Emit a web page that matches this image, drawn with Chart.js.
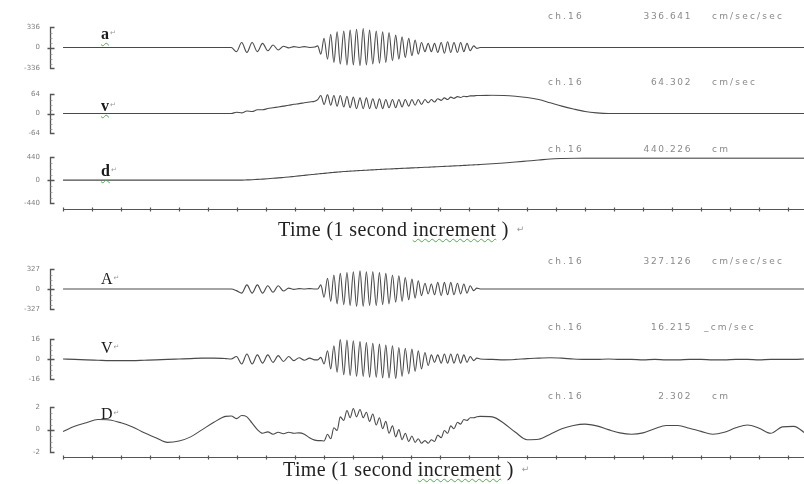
<!DOCTYPE html>
<html>
<head>
<meta charset="utf-8">
<script src="https://cdn.jsdelivr.net/npm/chart.js@4.4.1/dist/chart.umd.min.js"></script>
<style>
  body { margin: 0; background: #fff; }
  #page { position: relative; width: 804px; height: 484px; overflow: hidden; font-family: "Liberation Serif", serif; }
  canvas.panel { position: absolute; left: 0; }
  .lbl { position: absolute; left: 101px; font-size: 16px; line-height: 16px; color: #1a1a1a; }
  .lbl.lc { font-weight: bold; }
  .ret { font-family: "DejaVu Sans"; font-size: 7px; color: #999; font-weight: normal; vertical-align: 4px; margin-left: 1px; }
  .spell { text-decoration: underline wavy #4caf50; text-decoration-thickness: 1px; text-underline-offset: 3px; }
  .title .spell { text-underline-offset: 2px; }
  .info { position: absolute; font-family: "DejaVu Sans"; font-size: 9px; line-height: 9px; color: #8a8a8a; letter-spacing: 2.2px; white-space: nowrap; }
  .title { position: absolute; font-size: 20px; line-height: 20px; letter-spacing: 0.4px; color: #222; white-space: nowrap; }
</style>
</head>
<body>
<div id="page">
  <canvas class="panel" id="pa" width="804" height="69" style="top:13px"></canvas>
  <canvas class="panel" id="pv" width="804" height="67" style="top:80px"></canvas>
  <canvas class="panel" id="pd" width="804" height="82" style="top:143px"></canvas>
  <canvas class="panel" id="pA" width="804" height="68" style="top:255px"></canvas>
  <canvas class="panel" id="pV" width="804" height="68" style="top:325px"></canvas>
  <canvas class="panel" id="pD" width="804" height="79" style="top:393px"></canvas>

  <div class="lbl lc" style="top:25px"><span class="spell">a</span><span class="ret">↵</span></div>
  <div class="lbl lc" style="top:97px"><span class="spell">v</span><span class="ret">↵</span></div>
  <div class="lbl lc" style="top:162px"><span class="spell">d</span><span class="ret">↵</span></div>
  <div class="lbl" style="top:270px">A<span class="ret">↵</span></div>
  <div class="lbl" style="top:339px">V<span class="ret">↵</span></div>
  <div class="lbl" style="top:405px">D<span class="ret">↵</span></div>

  <div class="title" style="left:278px; top:219px">Time (1 second <span class="spell">increment</span> )<span class="ret" style="font-size:9px;margin-left:8px">↵</span></div>
  <div class="title" style="left:283px; top:459px">Time (1 second <span class="spell">increment</span> )<span class="ret" style="font-size:9px;margin-left:8px">↵</span></div>
</div>
<script>
// time base (s)
var times = [
  0, 0.4, 0.8, 1.2, 1.6, 2.0, 2.4, 2.8, 3.2, 3.6, 4.0, 4.4, 4.8, 5.2, 5.6,
  5.80, 5.98, 6.16, 6.34, 6.52, 6.70, 6.88, 7.06, 7.24, 7.42, 7.60, 7.78, 7.96, 8.14, 8.32, 8.50, 8.68,
  8.78, 8.89, 9.00, 9.12, 9.23, 9.34, 9.45, 9.56, 9.68, 9.79, 9.90, 10.01, 10.12, 10.24, 10.35, 10.46, 10.57,
  10.68, 10.80, 10.91, 11.02, 11.13, 11.24, 11.36, 11.47, 11.58, 11.69, 11.80, 11.92, 12.03, 12.14, 12.25,
  12.36, 12.48, 12.59, 12.70, 12.81, 12.92, 13.04, 13.15, 13.26, 13.37, 13.48, 13.60, 13.71, 13.82, 13.93,
  14.04, 14.16, 14.27, 14.38,
  14.8, 15.2, 15.6, 16.0, 16.4, 16.8, 17.2, 17.6, 18.0, 18.4, 18.8, 19.2, 19.6, 20.0, 20.4, 20.8, 21.2,
  21.6, 22.0, 22.4, 22.8, 23.2, 23.6, 24.0, 24.4, 24.8, 25.2, 25.6
];

// upper record: a (cm/sec/sec), v (cm/sec), d (cm)
var accUpper = [
  0, 0, 0, 0, 0, 0, 0, 0, 0, 0, 0, 0, 0, 0, 0,
  0, -68, 82, -82, 82, -68, 68, -55, 41, -41, 21, -7, 14, 0, 14, 0, 7,
  27, -110, 151, -192, 219, -247, 260, -274, 274, -288, 288, -288, 301, -301, 315, -288, 288,
  -274, 274, -260, 260, -247, 247, -219, 205, -192, 178, -164, 151, -137, 123, -110,
  82, -68, 68, -68, 68, -82, 82, -96, 96, -82, 82, -82, 82, -68, 68,
  -55, 27, -14, 0,
  0, 0, 0, 0, 0, 0, 0, 0, 0, 0, 0, 0, 0, 0, 0, 0, 0,
  0, 0, 0, 0, 0, 0, 0, 0, 0, 0, 0
];
var velUpper = [
  0, 0, 0, 0, 0, 0, 0, 0, 0, 0, 0, 0, 0, 0, 0,
  0, 4.1, 2.2, 8.2, 6.8, 12.2, 12.2, 16.3, 19, 21.8, 24.5, 27.2, 30.5, 32.6, 35.4, 38.1, 40.8,
  46.2, 59.8, 29.9, 62.6, 27.2, 59.8, 24.5, 59.8, 21.8, 57.1, 19, 54.4, 16.3, 51.7, 16.3, 51.7, 16.3,
  49, 16.3, 49, 16.3, 46.2, 19, 46.2, 19, 46.2, 21.8, 46.2, 24.5, 46.2, 27.2, 46.2,
  29.9, 46.2, 35.4, 46.2, 38.1, 49, 43.5, 51.7, 46.2, 54.4, 50.3, 55.8, 53, 57.1, 55.8,
  58.5, 58.5, 59.8, 59.8,
  60.7, 59.8, 57.1, 53, 46.2, 35.4, 24.5, 15, 6.8, 2.2, 0, 0, 0, 0, 0, 0, 0,
  0, 0, 0, 0, 0, 0, 0, 0, 0, 0, 0
];
var dispUpper = [
  0, 0, 0, 0, 0, 0, 0, 0, 0, 0, 0, 0, 0, 0, 0,
  0, 0, 0, 3.5, 7, 14, 19.4, 26.4, 35.2, 42.2, 51, 59.8, 70.4, 81, 91.5, 102, 113,
  118, 125, 130, 137, 143, 148, 153, 158, 164, 167, 172, 176, 180, 183, 187, 190, 194,
  197, 201, 204, 208, 211, 213, 216, 220, 222, 225, 229, 231, 234, 238, 239,
  243, 246, 248, 252, 255, 257, 260, 264, 266, 269, 273, 276, 278, 282, 285,
  289, 292, 296, 299,
  313, 329, 347, 366, 385, 405, 415, 421, 422, 422, 422, 422, 422, 422, 422, 422, 422,
  422, 422, 422, 422, 422, 422, 422, 422, 422, 422, 422
];

// lower record: A (cm/sec/sec), V (cm/sec), D (cm)
var accLower = [
  0, 0, 0, 0, 0, 0, 0, 0, 0, 0, 0, 0, 0, 0, 0,
  0, -27, -68, 68, -68, 68, -68, 54, -54, 54, -34, 14, -7, 7, 0, 7, 0,
  0, 68, -136, 177, -204, 231, -245, 258, -258, 272, -272, 286, -286, 299, -286, 286, -272,
  286, -272, 272, -258, 258, -245, 231, -218, 218, -204, 190, -177, 163, -150, 136,
  -109, 95, -82, 82, -95, 109, -109, 109, -95, 109, -95, 95, -82, 82, -68,
  54, -27, 14, 0,
  0, 0, 0, 0, 0, 0, 0, 0, 0, 0, 0, 0, 0, 0, 0, 0, 0,
  0, 0, 0, 0, 0, 0, 0, 0, 0, 0, 0
];
var velLower = [
  0, -0.33, -0.67, -1, -1.33, -1.33, -1.33, -1, -0.67, -0.33, 0, 0.33, 0.67, 0.67, 0.33,
  0, 2, -4, 4, -4, 3.3, -3.3, 3.3, -2.7, 2.7, -2, 2, -1.3, 1, -1, 0.7, -0.7,
  -0.67, 1.33, -4, 6.67, -8, 10.7, -10.7, 16, -12.7, 15.3, -13.3, 14.7, -14, 14, -14, 13.3, -14.7,
  12.7, -14.7, 12, -15.3, 11.3, -15.3, 10.7, -16, 9.3, -14, 8.7, -12, 8, -10, 6.7,
  -8, 5.3, -5.3, 3.3, -2.7, 3.3, -3.3, 4, -3.3, 4, -3.3, 4, -3.3, 3.3, -2.7,
  2, -1.3, 0.67, 0,
  -0.33, -0.67, -0.33, 0.33, 0.67, 1, 0.67, 0, -0.33, -0.33, 0, -0.33, -0.33, -0.67, -0.33, -0.67, -0.67,
  -0.33, -0.33, -0.67, -0.67, -0.33, -0.33, -0.67, -0.33, -0.33, -0.33, 0
];
var dispLower = [
  -0.16, 0.29, 0.61, 0.9, 0.86, 0.61, 0.24, -0.29, -0.73, -1.14, -1.02, -0.65, 0, 0.65, 1.18,
  1.22, 0.98, 1.26, 1.14, 0.57, 0, -0.33, -0.2, -0.41, -0.24, -0.37, -0.24, -0.33, -0.29, -0.41, -0.73, -0.94,
  -0.98, -0.98, -1.02, -0.41, -0.82, 0.16, -0.08, 1.14, 0.82, 1.71, 1.06, 1.88, 1.14, 1.8, 1.06, 1.55, 0.73,
  1.39, 0.41, 1.06, 0.08, 0.73, -0.33, 0.33, -0.65, 0, -0.9, -0.33, -1.06, -0.57, -1.14, -0.82,
  -1.22, -0.98, -1.22, -0.9, -1.06, -0.49, -0.73, -0.08, -0.33, 0.33, 0.08, 0.65, 0.49, 0.9, 0.82,
  1.06, 1.06, 1.14, 1.18,
  1.14, 0.57, -0.24, -0.9, -0.86, -0.41, 0.08, 0.37, 0.49, 0.33, 0, -0.29, -0.41, -0.29, 0.08, 0.37, 0.37,
  0.12, -0.16, -0.41, -0.24, 0.16, 0.41, 0.12, -0.33, 0.24, 0.29, -0.33
];

// axis ranges and tick labels
var ranges = [336, 64, 440, 327, 16, 2];
var tickLabels = [
  ['-336', '0', '336'],
  ['-64', '0', '64'],
  ['-440', '0', '440'],
  ['-327', '0', '327'],
  ['-16', '0', '16'],
  ['-2', '0', '2']
];
var peakText = ['336.641', '64.302', '440.226', '327.126', '16.215', '2.302'];
var unitText = ['cm/sec/sec', 'cm/sec', 'cm', 'cm/sec/sec', 'cm/sec', 'cm'];

var series = [accUpper, velUpper, dispUpper, accLower, velLower, dispLower];
var canvasIds = ['pa', 'pv', 'pd', 'pA', 'pV', 'pD'];
var infoTops = [12, 78, 145, 257, 323, 392];

// bracket-style y axis + time axis under the last trace of each record
var bracketAxis = {
  id: 'bracketAxis',
  afterDraw: function (chart, args, opts) {
    var ctx = chart.ctx, area = chart.chartArea;
    var y = chart.scales.y, x = chart.scales.x;
    var left = Math.round(area.left) + 0.5;
    var top = Math.round(y.getPixelForValue(y.max)) + 0.5;
    var bot = Math.round(y.getPixelForValue(y.min)) + 0.5;
    var zero = Math.round(y.getPixelForValue(0)) + 0.5;
    ctx.save();
    ctx.strokeStyle = '#555';
    ctx.lineWidth = 1.3;
    ctx.beginPath();
    ctx.moveTo(left + 4, top);
    ctx.lineTo(left, top);
    ctx.lineTo(left, bot);
    ctx.lineTo(left + 4, bot);
    ctx.moveTo(left - 3, zero);
    ctx.lineTo(left + 4, zero);
    ctx.stroke();
    ctx.lineWidth = 0.8;
    ctx.strokeStyle = '#999';
    ctx.beginPath();
    [0.25, 0.5, 0.75].forEach(function (f) {
      var p1 = Math.round(zero + (top - zero) * f) + 0.5;
      var p2 = Math.round(zero + (bot - zero) * f) + 0.5;
      ctx.moveTo(left, p1); ctx.lineTo(left + 2, p1);
      ctx.moveTo(left, p2); ctx.lineTo(left + 2, p2);
    });
    ctx.stroke();
    if (opts.timeAxis) {
      var ty = Math.round(area.bottom) + opts.gap + 0.5;
      ctx.strokeStyle = '#555';
      ctx.lineWidth = 1.2;
      ctx.beginPath();
      ctx.moveTo(x.getPixelForValue(0), ty);
      ctx.lineTo(chart.width, ty);
      for (var s = 0; s <= Math.floor(x.max); s++) {
        var px = Math.round(x.getPixelForValue(s)) + 0.5;
        ctx.moveTo(px, ty - 2);
        ctx.lineTo(px, ty + 2);
      }
      ctx.stroke();
    }
    ctx.restore();
  }
};

function makePanel(i) {
  var m = ranges[i];
  var labels = tickLabels[i];
  var withAxis = (i === 2 || i === 5);
  new Chart(document.getElementById(canvasIds[i]), {
    type: 'line',
    data: {
      datasets: [{
        data: times.map(function (t, k) { return { x: t, y: series[i][k] }; }),
        borderColor: '#4a4a4a',
        borderWidth: 1.1,
        pointRadius: 0,
        cubicInterpolationMode: 'monotone',
        fill: false
      }]
    },
    options: {
      responsive: false,
      animation: false,
      devicePixelRatio: 1,
      events: [],
      layout: { padding: { top: 10, bottom: withAxis ? (i === 5 ? 20 : 22) : 10, left: 0, right: 0 } },
      plugins: {
        legend: { display: false },
        tooltip: { enabled: false },
        bracketAxis: { timeAxis: withAxis, gap: i === 5 ? 5 : 6 }
      },
      scales: {
        x: { type: 'linear', min: -0.45, max: 25.55, display: false },
        y: {
          min: -m, max: m,
          afterBuildTicks: function (scale) {
            scale.ticks = [{ value: -m }, { value: 0 }, { value: m }];
          },
          afterFit: function (scale) { scale.width = 50; },
          grid: { display: false, drawTicks: false },
          border: { display: false },
          ticks: {
            padding: 10,
            color: '#808080',
            font: { family: 'DejaVu Sans', size: 7 },
            callback: function (v, idx) { return labels[idx]; }
          }
        }
      }
    },
    plugins: [bracketAxis]
  });

  var page = document.getElementById('page');
  var a = document.createElement('div');
  a.className = 'info';
  a.style.left = '548px'; a.style.top = infoTops[i] + 'px';
  a.textContent = 'ch.16';
  page.appendChild(a);
  var b = document.createElement('div');
  b.className = 'info';
  b.style.right = (804 - 692) + 'px'; b.style.top = infoTops[i] + 'px';
  b.style.letterSpacing = '1.6px';
  b.textContent = peakText[i];
  page.appendChild(b);
  var c = document.createElement('div');
  c.className = 'info';
  c.style.left = (i === 4 ? '704px' : '712px'); c.style.top = infoTops[i] + 'px';
  c.textContent = (i === 4 ? '_' : '') + unitText[i];
  page.appendChild(c);
}

for (var i = 0; i < 6; i++) makePanel(i);
</script>
</body>
</html>
